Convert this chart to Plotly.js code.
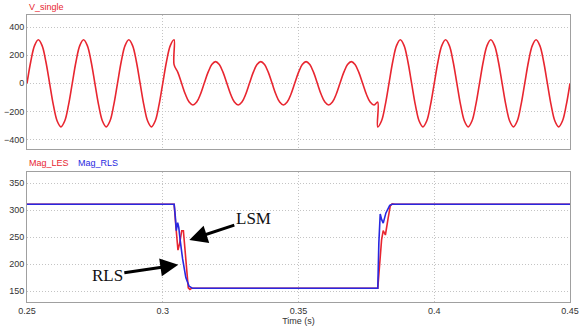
<!DOCTYPE html>
<html>
<head>
<meta charset="utf-8">
<script src="https://cdn.plot.ly/plotly-3.0.1.min.js"></script>
<style>html,body{margin:0;padding:0;background:#fff;}#chart{width:587px;height:327px;}</style>
</head>
<body>
<div id="chart"></div>
<script>
// ---- V_single waveform, three segments: before sag, during sag, after sag
const preT = [0.25000,0.25139,0.25278,0.25417,0.25556,0.25694,0.25833,0.25972,0.26111,0.26250,0.26389,0.26528,
  0.26667,0.26806,0.26944,0.27083,0.27222,0.27361,0.27500,0.27639,0.27778,0.27917,0.28056,0.28194,
  0.28333,0.28472,0.28611,0.28750,0.28889,0.29028,0.29167,0.29306,0.29444,0.29583,0.29722,0.29861,
  0.30000,0.30139,0.30278,0.30417];
const preV = [0,156,269,311,269,156,0,-156,-269,-311,-269,-156,
  0,156,269,311,269,156,0,-156,-269,-311,-269,-156,
  0,156,269,311,269,156,0,-156,-269,-311,-269,-156,
  0,156,269,311];
const sagT = [0.30417,0.30556,0.30694,0.30833,0.30972,0.31111,0.31250,0.31389,0.31528,0.31667,0.31806,0.31944,
  0.32083,0.32222,0.32361,0.32500,0.32639,0.32778,0.32917,0.33056,0.33194,0.33333,0.33472,0.33611,
  0.33750,0.33889,0.34028,0.34167,0.34306,0.34444,0.34583,0.34722,0.34861,0.35000,0.35139,0.35278,
  0.35417,0.35556,0.35694,0.35833,0.35972,0.36111,0.36250,0.36389,0.36528,0.36667,0.36806,0.36944,
  0.37083,0.37222,0.37361,0.37500,0.37639,0.37778,0.37917];
const sagV = [134,78,0,-78,-134,-155,-134,-78,0,78,134,155,
  134,78,0,-78,-134,-155,-134,-78,0,78,134,155,
  134,78,0,-78,-134,-155,-134,-78,0,78,134,155,
  134,78,0,-78,-134,-155,-134,-78,0,78,134,155,
  134,78,0,-78,-134,-155,-134];
const postT = [0.37917,0.38056,0.38194,0.38333,0.38472,0.38611,0.38750,0.38889,0.39028,0.39167,0.39306,0.39444,
  0.39583,0.39722,0.39861,0.40000,0.40139,0.40278,0.40417,0.40556,0.40694,0.40833,0.40972,0.41111,
  0.41250,0.41389,0.41528,0.41667,0.41806,0.41944,0.42083,0.42222,0.42361,0.42500,0.42639,0.42778,
  0.42917,0.43056,0.43194,0.43333,0.43472,0.43611,0.43750,0.43889,0.44028,0.44167,0.44306,0.44444,
  0.44583,0.44722,0.44861,0.45000];
const postV = [-311,-269,-156,0,156,269,311,269,156,0,-156,-269,
  -311,-269,-156,0,156,269,311,269,156,0,-156,-269,
  -311,-269,-156,0,156,269,311,269,156,0,-156,-269,
  -311,-269,-156,0,156,269,311,269,156,0,-156,-269,
  -311,-269,-156,0];

// ---- Magnitude estimates
const lesT = [0.25,0.3042,0.3048,0.3056,0.3062,0.3070,0.3076,0.3082,0.3088,0.3094,0.3100,0.3106,
  0.3792,0.3800,0.3806,0.3812,0.3820,0.3830,0.3838,0.3845,0.3855,0.45];
const lesV = [311,311,272,226,238,262,262,228,180,156,153,155,
  155,200,245,262,254,285,308,312,311,311];
const rlsT = [0.25,0.3042,0.3046,0.3050,0.3055,0.3059,0.3064,0.3073,0.3085,0.3097,0.3110,
  0.3792,0.3796,0.3801,0.3806,0.3812,0.3822,0.3836,0.3845,0.45];
const rlsV = [311,311,290,262,277,268,245,210,175,159,155,
  155,240,293,283,276,295,309,311,311];

const xTicks = [0.25,0.3,0.35,0.4,0.45];
const xTickText = ['0.25','0.3','0.35','0.4','0.45'];
const vTicks = [-400,-200,0,200,400];
const magTicks = [150,200,250,300,350];

const RED = 'rgb(232,38,48)';
const BLUE = 'rgb(40,40,225)';

const vT = preT.concat(sagT, postT);
const vV = preV.concat(sagV, postV);

const traces = [
  {x: vT, y: vV, type: 'scatter', mode: 'lines', line: {color: RED, width: 1.6, shape: 'spline', smoothing: 1}, xaxis: 'x', yaxis: 'y', showlegend: false, hoverinfo: 'skip'},
  {x: lesT, y: lesV, type: 'scatter', mode: 'lines', line: {color: RED, width: 1.6}, xaxis: 'x2', yaxis: 'y2', showlegend: false, hoverinfo: 'skip'},
  {x: rlsT, y: rlsV, type: 'scatter', mode: 'lines', line: {color: BLUE, width: 1.6}, xaxis: 'x2', yaxis: 'y2', showlegend: false, hoverinfo: 'skip'}
];

const tickFont = {family: 'Liberation Sans, Arial, sans-serif', size: 9, color: '#333'};
const axisCommon = {
  showline: true, linecolor: '#a0a0a0', linewidth: 1, mirror: true,
  showgrid: true, gridcolor: '#c4c4c4', griddash: '1px,2px', gridwidth: 1,
  zeroline: false, ticks: '', tickfont: tickFont, fixedrange: true
};

const layout = {
  width: 587, height: 327,
  margin: {l: 27, r: 17, t: 15, b: 25},
  paper_bgcolor: '#fff', plot_bgcolor: '#fff',
  showlegend: false,
  xaxis: Object.assign({}, axisCommon, {domain: [0,1], range: [0.25,0.45], tickvals: xTicks, showticklabels: false, anchor: 'y'}),
  yaxis: Object.assign({}, axisCommon, {domain: [0.533,1], range: [-469,488], tickvals: vTicks, anchor: 'x'}),
  xaxis2: Object.assign({}, axisCommon, {domain: [0,1], range: [0.25,0.45], tickvals: xTicks, ticktext: xTickText, anchor: 'y2',
    title: {text: 'Time (s)', font: {family: 'Liberation Sans, Arial, sans-serif', size: 9, color: '#333'}, standoff: 2}}),
  yaxis2: Object.assign({}, axisCommon, {domain: [0,0.453], range: [129.6,371], tickvals: magTicks, anchor: 'x2'}),
  annotations: [
    {xref: 'paper', yref: 'paper', x: 0, y: 1.028, xanchor: 'left', yanchor: 'middle', text: 'V_single', showarrow: false,
      font: {family: 'Liberation Sans, Arial, sans-serif', size: 9, color: RED}},
    {xref: 'paper', yref: 'paper', x: 0, y: 0.484, xanchor: 'left', yanchor: 'middle', text: 'Mag_LES', showarrow: false,
      font: {family: 'Liberation Sans, Arial, sans-serif', size: 9, color: RED}},
    {xref: 'paper', yref: 'paper', x: 0.09, y: 0.484, xanchor: 'left', yanchor: 'middle', text: 'Mag_RLS', showarrow: false,
      font: {family: 'Liberation Sans, Arial, sans-serif', size: 9, color: BLUE}},
    {xref: 'x2', yref: 'y2', x: 0.30978, y: 244.8, ax: 64, ay: -21, text: 'LSM', showarrow: true,
      arrowhead: 2, arrowsize: 1.2, arrowwidth: 3, arrowcolor: '#000',
      font: {family: 'Liberation Serif, Times New Roman, serif', size: 17, color: '#111'}},
    {xref: 'x2', yref: 'y2', x: 0.30573, y: 198.7, ax: -71, ay: 10.5, text: 'RLS', showarrow: true,
      arrowhead: 2, arrowsize: 1.2, arrowwidth: 3, arrowcolor: '#000',
      font: {family: 'Liberation Serif, Times New Roman, serif', size: 17, color: '#111'}}
  ]
};

Plotly.newPlot('chart', traces, layout, {staticPlot: true, displayModeBar: false});
</script>
</body>
</html>
